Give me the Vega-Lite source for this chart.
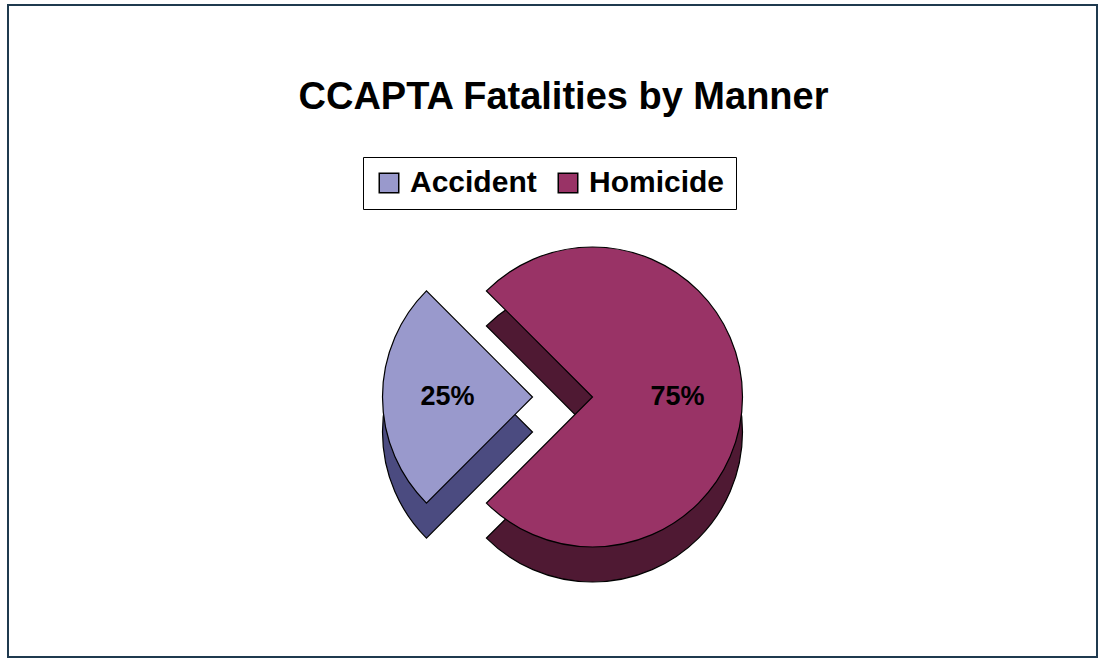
{
  "$schema": "https://vega.github.io/schema/vega-lite/v6.json",
  "width": 1099,
  "height": 659,
  "autosize": {"type": "fit", "contains": "padding"},
  "padding": {"left": 8, "top": 5, "right": 2, "bottom": 2},
  "background": "white",
  "view": {"stroke": "#1F3A4F", "strokeWidth": 2, "fill": "white"},
  "config": {
    "view": {"stroke": "#1F3A4F", "strokeWidth": 2},
    "font": "Liberation Sans",
    "legend": {
      "orient": "none",
      "legendX": 355,
      "legendY": 152,
      "direction": "horizontal",
      "strokeColor": "black",
      "fillColor": "white",
      "padding": 11,
      "symbolType": "square",
      "symbolSize": 380,
      "symbolStrokeColor": "black",
      "symbolStrokeWidth": 1.5,
      "symbolOpacity": 1,
      "labelFont": "Liberation Sans",
      "labelFontWeight": "bold",
      "labelFontSize": 30,
      "labelColor": "black",
      "labelOffset": 6,
      "columnPadding": 16
    }
  },
  "title": {
    "text": "CCAPTA Fatalities by Manner",
    "font": "Liberation Sans",
    "fontSize": 38,
    "fontWeight": "bold",
    "color": "black",
    "anchor": "middle",
    "dx": 11,
    "offset": -112
  },
  "data": {
    "values": [
      {"manner": "Accident", "share": 0.25},
      {"manner": "Homicide", "share": 0.75}
    ]
  },
  "encoding": {
    "theta": {"field": "share", "type": "quantitative", "stack": true, "scale": {"range": [3.927, 10.21]}}
  },
  "layer": [
    {
      "mark": {"type": "arc", "radius": 150, "xOffset": 40, "yOffset": 101, "stroke": "black", "strokeWidth": 1.2},
      "encoding": {
        "fill": {"value": "#4F1933"},
        "opacity": {"condition": {"test": "datum.manner === 'Homicide'", "value": 1}, "value": 0}
      }
    },
    {
      "mark": {"type": "arc", "radius": 150, "xOffset": -20, "yOffset": 101, "stroke": "black", "strokeWidth": 1.2},
      "encoding": {
        "fill": {"value": "#4B4B80"},
        "opacity": {"condition": {"test": "datum.manner === 'Accident'", "value": 1}, "value": 0}
      }
    },
    {
      "mark": {"type": "arc", "radius": 150, "xOffset": 40, "yOffset": 66, "stroke": "black", "strokeWidth": 1.2},
      "encoding": {
        "color": {"field": "manner", "type": "nominal", "title": null, "scale": {"domain": ["Accident", "Homicide"], "range": ["#9999CC", "#993366"]}},
        "opacity": {"condition": {"test": "datum.manner === 'Homicide'", "value": 1}, "value": 0}
      }
    },
    {
      "mark": {"type": "arc", "radius": 150, "xOffset": -20, "yOffset": 66, "stroke": "black", "strokeWidth": 1.2},
      "encoding": {
        "color": {"field": "manner", "type": "nominal", "title": null},
        "opacity": {"condition": {"test": "datum.manner === 'Accident'", "value": 1}, "value": 0}
      }
    },
    {
      "mark": {"type": "text", "radius": 85, "xOffset": 40, "yOffset": 66, "font": "Liberation Sans", "fontWeight": "bold", "fontSize": 27, "color": "black"},
      "encoding": {
        "text": {"field": "share", "type": "quantitative", "format": ".0%"},
        "opacity": {"condition": {"test": "datum.manner === 'Homicide'", "value": 1}, "value": 0}
      }
    },
    {
      "mark": {"type": "text", "radius": 85, "xOffset": -20, "yOffset": 66, "font": "Liberation Sans", "fontWeight": "bold", "fontSize": 27, "color": "black"},
      "encoding": {
        "text": {"field": "share", "type": "quantitative", "format": ".0%"},
        "opacity": {"condition": {"test": "datum.manner === 'Accident'", "value": 1}, "value": 0}
      }
    }
  ]
}
